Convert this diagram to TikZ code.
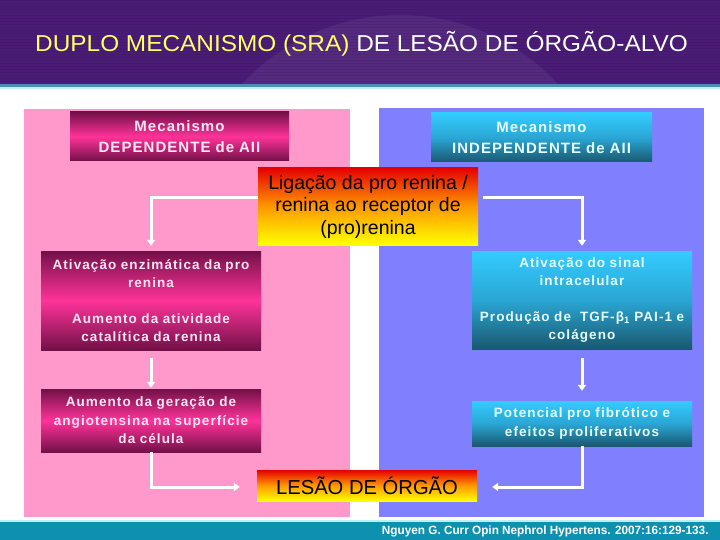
\documentclass[tikz,border=0pt]{standalone}
\usepackage{fontspec}
\setmainfont{Liberation Sans}
\newfontfamily\boxfont[LetterSpace=8]{Liberation Sans}
\newfontfamily\hdrboxfont[LetterSpace=7]{Liberation Sans}
\usetikzlibrary{arrows.meta}
\definecolor{hdr}{HTML}{4A1C78}
\definecolor{hdrLine}{HTML}{4A8FB5}
\definecolor{paleCyan}{HTML}{BDEFF7}
\definecolor{pinkbg}{HTML}{FF99CC}
\definecolor{bluebg}{HTML}{8080FF}
\definecolor{mgDark}{HTML}{721048}
\definecolor{mgMid}{HTML}{FF3399}
\definecolor{cyTop}{HTML}{33CCFF}
\definecolor{cyMid}{HTML}{2AA6D4}
\definecolor{cyBot}{HTML}{1A5870}
\definecolor{band}{HTML}{0E90B0}
\definecolor{ttlYellow}{HTML}{FFFF66}
\definecolor{pinkTxt}{HTML}{FFE6F4}
\definecolor{cyanTxt}{HTML}{E6FFFF}
\begin{document}
\begin{tikzpicture}[x=1pt,y=-1pt,
  magbox/.style={rectangle, inner sep=0pt, top color=mgDark, bottom color=mgDark, middle color=mgMid, text=pinkTxt, align=center, text width=218pt},
  cyabox/.style={rectangle, inner sep=0pt, top color=cyTop, bottom color=cyBot, middle color=cyMid, text=cyanTxt, align=center, text width=218pt},
  firebox/.style={rectangle, inner sep=0pt, top color=red!90!black, bottom color=yellow, middle color=orange!80!yellow, text=black, align=center},
  hdrfont/.style={font=\fontsize{15}{21}\selectfont\hdrboxfont\bfseries},
  sidefont/.style={font=\fontsize{13.5}{18.5}\selectfont\boxfont\bfseries},
  flow/.style={white, line width=3pt, -{Triangle[width=8pt,length=6pt]}}
]
\useasboundingbox (0,0) rectangle (720,540);
% backgrounds
\fill[white] (0,0) rectangle (720,540);
\fill[hdr] (0,0) rectangle (720,84);
\foreach \y in {0,3,...,82} \fill[black,opacity=0.10] (0,\y) rectangle (720,\y+1.5);
\begin{scope}
  \clip (0,0) rectangle (720,84);
  \fill[white,opacity=0.06] (400,230) circle (215);
\end{scope}
\fill[hdrLine] (0,84) rectangle (720,87);
\fill[paleCyan] (0,87) rectangle (720,89);
\fill[pinkbg] (24,109) rectangle (350,517);
\fill[bluebg] (379,108) rectangle (704,517);
\fill[paleCyan] (0,520) rectangle (720,522);
\fill[band] (0,522) rectangle (720,540);
% title
\node[font=\fontsize{23}{26}\selectfont, xscale=1.06] (title) at (361.5,44)
  {\textcolor{ttlYellow}{DUPLO MECANISMO (SRA)} \textcolor{white}{DE LESÃO DE ÓRGÃO-ALVO}};
% boxes
\node[magbox, hdrfont, minimum width=219pt, minimum height=49pt] (hl) at (179.5,136.5) {Mecanismo\\DEPENDENTE de AII};
\node[cyabox, hdrfont, minimum width=221pt, minimum height=49pt] (hr) at (541.5,137.5) {Mecanismo\\INDEPENDENTE de AII};
\node[firebox, font=\fontsize{19.5}{22.5}\selectfont, minimum width=220pt, minimum height=77pt] (ctr) at (368,206.5) {Ligação da pro renina /\\renina ao receptor de\\(pro)renina};
\node[magbox, sidefont, minimum width=220pt, minimum height=99pt] (l1) at (151,300.5) {Ativação enzimática da pro\\renina\\[17pt]Aumento da atividade\\catalítica da renina};
\node[cyabox, sidefont, minimum width=220pt, minimum height=98pt] (r1) at (582,300) {Ativação do sinal\\intracelular\\[17pt]Produção de~ TGF-β\textsubscript{1} PAI-1 e\\colágeno};
\node[magbox, sidefont, minimum width=220pt, minimum height=63pt] (l2) at (151,420.5) {Aumento da geração de\\angiotensina na superfície\\da célula};
\node[cyabox, sidefont, minimum width=220pt, minimum height=45pt] (r2) at (582,423.5) {Potencial pro fibrótico e\\efeitos proliferativos};
\node[firebox, font=\fontsize{20.2}{23}\selectfont, minimum width=220pt, minimum height=31pt] (les) at (367,485.5) {LESÃO DE ÓRGÃO};
% connectors
\draw[flow, shorten >=5pt] ([yshift=8.5pt]ctr.west) -| (l1.north);
\draw[flow, shorten <=5pt, shorten >=5pt] ([yshift=8.5pt]ctr.east) -| (r1.north);
\draw[flow, shorten <=8pt, shorten >=1pt] (l1.south) -- (l2.north);
\draw[flow, shorten <=9pt, shorten >=10pt] (r1.south) -- (r2.north);
\draw[flow, shorten >=17pt] (l2.south) |- ([yshift=-1.5pt]les.west);
\draw[flow, shorten >=15pt] (r2.south) |- ([yshift=-1.5pt]les.east);
% citation
\node[anchor=east, text=white, font=\fontsize{12}{14}\selectfont\bfseries, xscale=0.98] (cite) at (712,531) {Nguyen G. Curr Opin Nephrol Hypertens. 2007:16:129-133.};
\end{tikzpicture}
\end{document}
